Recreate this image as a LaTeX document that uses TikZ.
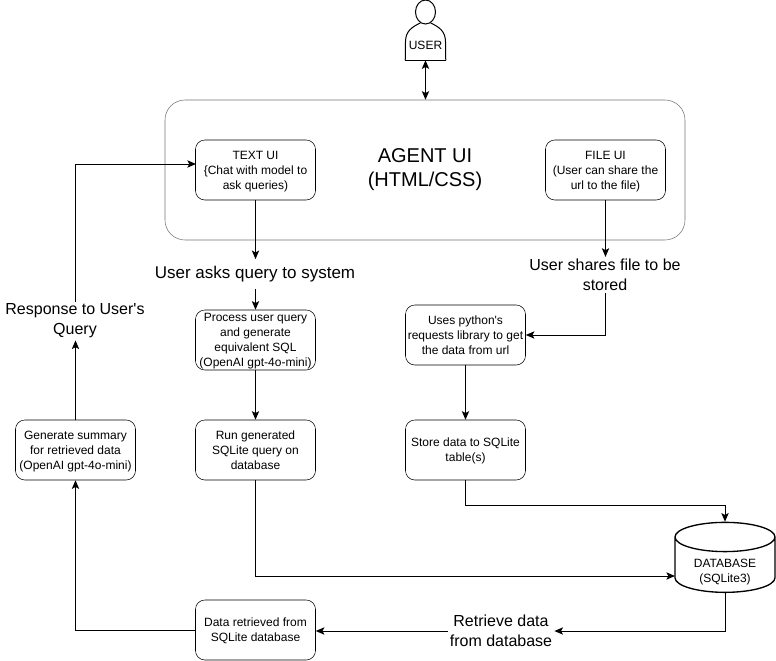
\documentclass[tikz,border=0pt]{standalone}
\usepackage{fontspec}
\setmainfont{Liberation Sans}[Ligatures=TeXOff]
\usetikzlibrary{arrows.meta,shapes.geometric}
\tikzset{bx/.append style={draw,rounded corners=7pt,minimum width=90pt,minimum height=45pt,inner sep=1pt,align=center,text depth=-1pt,font=\fontsize{9}{11.25}\selectfont}}
\tikzset{lb/.append style={align=center,inner sep=1.5pt,font=\fontsize{12}{15}\selectfont}}
\tikzset{ar/.append style={-{Stealth[length=6.5pt,width=5.5pt,inset=1.5pt]},line width=0.75pt}}
\tikzset{ln/.append style={line width=0.75pt}}

\begin{document}
\begin{tikzpicture}[x=0.75pt,y=-0.75pt]
                \useasboundingbox (0,0) rectangle (776,661);
                % agent ui
                \node[draw=black!55,rounded corners=15pt,minimum width=390pt,minimum height=105pt,inner sep=0pt] (agent) at (425,170) {};
                \node[align=center,font=\fontsize{15}{18}\selectfont] (agentlb) at (425,170) {AGENT UI\\(HTML/CSS)};
                % user
                \node[inner sep=0pt,minimum width=30pt,minimum height=45pt,font=\fontsize{9}{11.25}\selectfont] (user) at (425.5,30) {\raisebox{-14.5pt}[0pt][0pt]{USER}};
                \node[draw,ellipse,line width=0.75pt,inner sep=0pt,minimum width=15pt,minimum height=18pt] (head) at (425.5,12) {};
                \draw[ln] (user.south west) -- (405.5,42) .. controls (405.5,31) and (412,27) .. (head.-115);
                \draw[ln] (user.south east) -- (445.5,42) .. controls (445.5,31) and (439,27) .. (head.-65);
                \draw[ln] (user.south west) -- (user.south east);
                % boxes
                \node[bx] (textui) at (255.5,170) {TEXT UI\\\{Chat with model to\\ask queries)};
                \node[bx] (fileui) at (605.5,170) {FILE UI\\(User can share the\\url to the file)};
                \node[bx] (process) at (255.5,340) {Process user query\\and generate\\equivalent SQL\\(OpenAI gpt-4o-mini)};
                \node[bx] (requests) at (465.5,335) {Uses python's\\requests library to get\\the data from url};
                \node[bx] (store) at (465.5,450) {Store data to SQLite\\table(s)};
                \node[bx] (run) at (255.5,450) {Run generated\\SQLite query on\\database};
                \node[bx] (summary) at (75.5,450) {Generate summary\\for retrieved data\\(OpenAI gpt-4o-mini)};
                \node[bx] (retrieved) at (255.5,630) {Data retrieved from\\SQLite database};
                \node[draw,shape=cylinder,shape border rotate=90,aspect=0.47,line width=1pt,minimum width=75pt,minimum height=43pt,inner sep=0pt,font=\fontsize{9}{11.25}\selectfont] (db) at (725,565) {\phantom{DATABASE}\rule{0pt}{19pt}};
                \node[align=center,inner sep=0pt,font=\fontsize{9}{11.25}\selectfont] (dblb) at (725,572.5) {DATABASE\\(SQLite3)};
                % labels
                \node[lb,inner ysep=5pt,font=\fontsize{12.75}{15}\selectfont] (asklb) at (255,274) {User asks query to system};
                \node[lb] (sharelb) at (605,275) {User shares file to be\\stored};
                \node[lb] (resplb) at (75,321) {Response to User's\\Query};
                \node[lb] (getlb) at (501,631) {Retrieve data\\from database};
                % free ends
                \coordinate (textin) at (196,164);
                \coordinate (dbin) at (675,576);
                % connectors
                \draw[{Stealth[length=6.5pt,width=5.5pt,inset=1.5pt]}-{Stealth[length=6.5pt,width=5.5pt,inset=1.5pt]},line width=0.75pt] (user.south) -- (agent.north -| user.south);
                \draw[ar] (textui.south) -- (textui.south |- asklb.north);
                \draw[ar] (process.north |- asklb.south) -- (process.north);
                \draw[ar] (fileui.south) -- (fileui.south |- sharelb.north);
                \draw[ar] (fileui.south |- sharelb.south) |- (requests.east);
                \draw[ar] (process.south) -- (run.north);
                \draw[ar] (requests.south) -- (store.north);
                \draw[ar] (store.south) -- (465.5,505) -| (db.north);
                \draw[ar] (run.south) |- (dbin);
                \draw[ar] (db.south) |- (getlb.east);
                \draw[ar] (getlb.west) -- (retrieved.east |- getlb.west);
                \draw[ar] (retrieved.west) -| (summary.south);
                \draw[ar] (summary.north) -- (summary.north |- resplb.south);
                \draw[ar] (summary.north |- resplb.north) |- (textin);
            \end{tikzpicture}
\end{document}
